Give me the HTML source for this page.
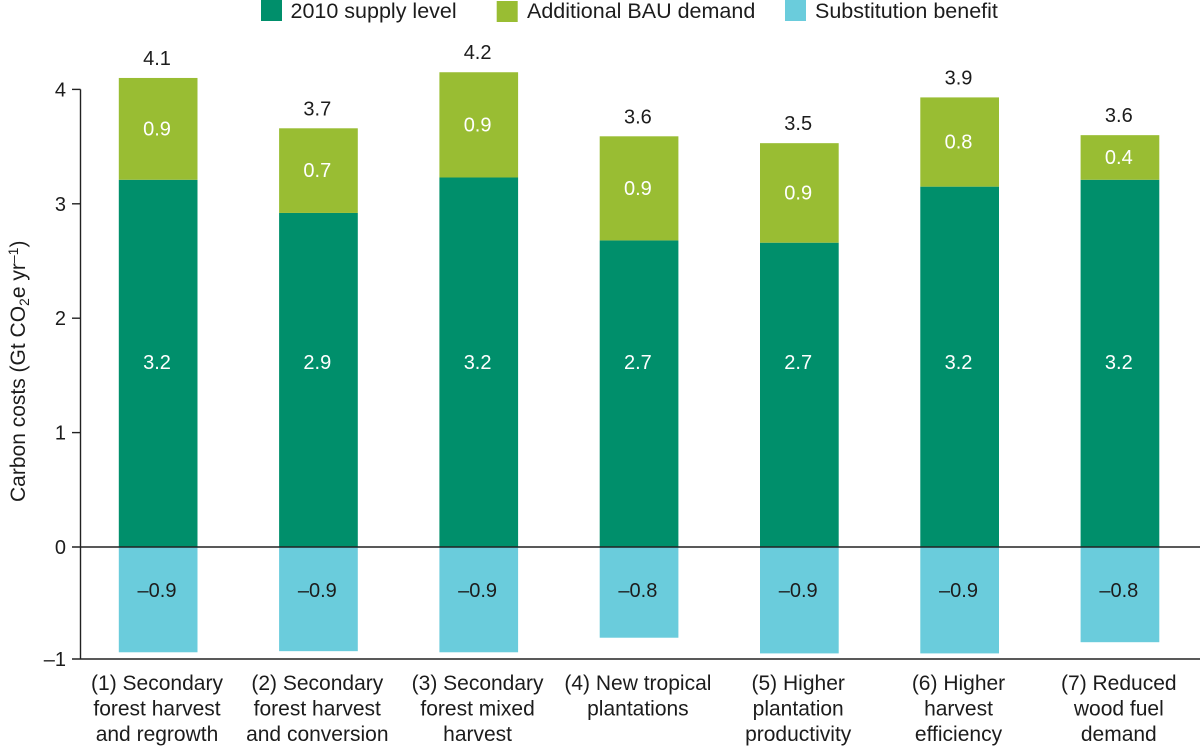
<!DOCTYPE html>
<html lang="en">
<head>
<meta charset="utf-8">
<title>Carbon costs chart</title>
<style>
html,body{margin:0;padding:0;background:#fff;}
svg{display:block;}
text{font-family:"Liberation Sans",sans-serif;font-size:20px;fill:#1c1c1c;}
text.word{font-size:21.5px;}
text.title{font-size:21px;}
#cats text{font-size:21px;}
</style>
</head>
<body>
<svg id="chart" width="1200" height="746" viewBox="0 0 1200 746" xmlns="http://www.w3.org/2000/svg">
  <g>
    <rect x="261" y="0" width="21" height="21" fill="#008f6b"/>
    <text class="word" x="290.5" y="18">2010 supply level</text>
    <rect x="496.7" y="1" width="21" height="21" fill="#99bd33"/>
    <text class="word" x="527" y="18">Additional BAU demand</text>
    <rect x="785" y="0" width="21" height="21" fill="#6accdc"/>
    <text class="word" x="815" y="18">Substitution benefit</text>
  </g>
  <text class="title" transform="translate(25,502) rotate(-90)">Carbon costs (Gt CO<tspan font-size="14" dy="4">2</tspan><tspan dy="-4">e yr</tspan><tspan font-size="14" dy="-7">–1</tspan><tspan dy="7">)</tspan></text>
  <g id="bars"></g>
  <g id="axes"></g>
  <g id="labels"></g>
  <g id="cats"></g>
</svg>
<script>
const categories = [
  ["(1) Secondary", "forest harvest", "and regrowth"],
  ["(2) Secondary", "forest harvest", "and conversion"],
  ["(3) Secondary", "forest mixed", "harvest"],
  ["(4) New tropical", "plantations"],
  ["(5) Higher", "plantation", "productivity"],
  ["(6) Higher", "harvest", "efficiency"],
  ["(7) Reduced", "wood fuel", "demand"]
];
const supplyValues = [3.21, 2.92, 3.23, 2.68, 2.66, 3.15, 3.21];
const demandValues = [0.89, 0.74, 0.92, 0.91, 0.87, 0.78, 0.39];
const benefitValues = [-0.94, -0.93, -0.94, -0.81, -0.95, -0.95, -0.85];
const supplyLabels = ["3.2", "2.9", "3.2", "2.7", "2.7", "3.2", "3.2"];
const demandLabels = ["0.9", "0.7", "0.9", "0.9", "0.9", "0.8", "0.4"];
const benefitLabels = ["–0.9", "–0.9", "–0.9", "–0.8", "–0.9", "–0.9", "–0.8"];
const totalLabels = ["4.1", "3.7", "4.2", "3.6", "3.5", "3.9", "3.6"];
const yTicks = [4, 3, 2, 1, 0, -1];
const yTickLabels = ["4", "3", "2", "1", "0", "–1"];

const NS = "http://www.w3.org/2000/svg";
const barW = 78.7;
function xLeft(i) { return 118.8 + 160.3 * i; }
function xMid(i) { return xLeft(i) + 38.2; }
function yPos(v) { return v >= 0 ? 547 - 114.4 * v : 547 - 112 * v; }

function mk(tag, parent, attrs, txt) {
  const el = document.createElementNS(NS, tag);
  for (const k in attrs) el.setAttribute(k, attrs[k]);
  if (txt !== undefined) el.textContent = txt;
  parent.appendChild(el);
  return el;
}
const barsG = document.getElementById("bars");
const axesG = document.getElementById("axes");
const labelsG = document.getElementById("labels");
const catsG = document.getElementById("cats");

categories.forEach(function (lines, i) {
  const n = i + 1;
  const topSupply = yPos(supplyValues[i]);
  const topTotal = yPos(supplyValues[i] + demandValues[i]);
  const bottom = yPos(benefitValues[i]);

  const b1 = mk("rect", barsG, {x: xLeft(i), y: topSupply, width: barW, height: yPos(0) - topSupply, fill: "#008f6b"});
  
  
  const b2 = mk("rect", barsG, {x: xLeft(i), y: topTotal, width: barW, height: topSupply - topTotal, fill: "#99bd33"});
  
  
  const b3 = mk("rect", barsG, {x: xLeft(i), y: yPos(0), width: barW, height: bottom - yPos(0), fill: "#6accdc"});
  
  

  const t0 = mk("text", labelsG, {x: xMid(i), y: topTotal - 13, "text-anchor": "middle"}, totalLabels[i]);
  
  
  const t1 = mk("text", labelsG, {x: xMid(i), y: (topTotal + topSupply) / 2 + 6.5, "text-anchor": "middle", style: "fill:#fff"}, demandLabels[i]);
  
  
  const t2 = mk("text", labelsG, {x: xMid(i), y: 369, "text-anchor": "middle", style: "fill:#fff"}, supplyLabels[i]);
  
  
  const t3 = mk("text", labelsG, {x: xMid(i), y: 597, "text-anchor": "middle"}, benefitLabels[i]);
  
  

  const c = mk("text", catsG, {"text-anchor": "middle"});
  
  
  lines.forEach(function (line, j) {
    mk("tspan", c, {x: xMid(i), y: 690 + 25.5 * j}, line);
  });
});

const yAxis = mk("line", axesG, {x1: 80.5, x2: 80.5, y1: yPos(4), y2: yPos(-1), stroke: "#222", "stroke-width": 1.4});



yTicks.forEach(function (v, i) {
  const y = yPos(v);
  const isLong = v <= 0;
  const tick = mk("line", axesG, {x1: 72, x2: isLong ? 1200 : 80.5, y1: y, y2: y, stroke: "#222", "stroke-width": isLong ? 1.6 : 1.4});
  
  
  const lab = mk("text", axesG, {x: 66, y: y + 7, "text-anchor": "end"}, yTickLabels[i]);
  
  
});
</script>
</body>
</html>
